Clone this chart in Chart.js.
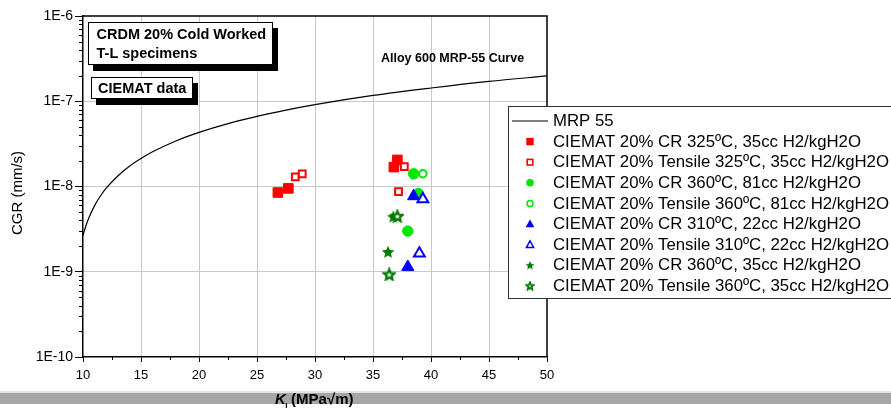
<!DOCTYPE html>
<html><head><meta charset="utf-8">
<script src="https://cdn.jsdelivr.net/npm/chart.js@4.4.1/dist/chart.umd.min.js"></script>
<style>html,body{margin:0;padding:0;background:#fff;overflow:hidden}#wrap{width:891px;height:410px}</style>
</head><body><div id="wrap"><canvas id="c" width="891" height="410"></canvas></div>
<script>
const FONT = '"Liberation Sans", Arial, sans-serif';
const xTickValues = [10, 15, 20, 25, 30, 35, 40, 45, 50];
const xMinorTicks = [12.5, 17.5, 22.5, 27.5, 32.5, 37.5, 42.5, 47.5];
const yTickValues = [1e-10, 1e-9, 1e-8, 1e-7, 1e-6];

// MRP-55 curve
const mrpK   = [10, 10.25, 10.5, 11, 11.5, 12, 13, 14, 15, 16, 18, 20, 22.5, 25, 27.5, 30, 35, 40, 45, 50];
const mrpCGR = [2.67e-9, 3.46e-9, 4.27e-9, 5.97e-9, 7.73e-9, 9.55e-9, 1.33e-8, 1.73e-8, 2.13e-8, 2.55e-8, 3.42e-8, 4.31e-8, 5.47e-8, 6.66e-8, 7.88e-8, 9.13e-8, 1.17e-7, 1.43e-7, 1.71e-7, 1.98e-7];

const cr325K = [26.8, 27.7, 36.8, 37.1];
const cr325CGR = [8.5e-9, 9.5e-9, 1.69e-8, 2.05e-8];
const ten325K = [28.3, 28.9, 37.7, 37.2];
const ten325CGR = [1.30e-8, 1.41e-8, 1.71e-8, 8.7e-9];
const cr360hK = [38.5, 38.0, 38.9];
const cr360hCGR = [1.41e-8, 3.0e-9, 8.3e-9];
const ten360hK = [39.3];
const ten360hCGR = [1.41e-8];
const cr310K = [38.5, 38.0];
const cr310CGR = [7.7e-9, 1.14e-9];
const ten310K = [39.3, 39.0];
const ten310CGR = [7.1e-9, 1.64e-9];
const cr360lK = [36.75, 36.3];
const cr360lCGR = [4.43e-9, 1.71e-9];
const ten360lK = [37.1, 36.4];
const ten360lCGR = [4.5e-9, 9.3e-10];

const seriesLabels = [
  'MRP 55',
  'CIEMAT 20% CR 325\u00BAC, 35cc H2/kgH2O',
  'CIEMAT 20% Tensile 325\u00BAC, 35cc H2/kgH2O',
  'CIEMAT 20% CR 360\u00BAC, 81cc H2/kgH2O',
  'CIEMAT 20% Tensile 360\u00BAC, 81cc H2/kgH2O',
  'CIEMAT 20% CR 310\u00BAC, 22cc H2/kgH2O',
  'CIEMAT 20% Tensile 310\u00BAC, 22cc H2/kgH2O',
  'CIEMAT 20% CR 360\u00BAC, 35cc H2/kgH2O',
  'CIEMAT 20% Tensile 360\u00BAC, 35cc H2/kgH2O'
];

const RED = '#ff0000', GREEN = '#00e600', BLUE = '#0000ff', DKGREEN = '#007a00';

function pts(xs, ys) { return xs.map((x, i) => ({x: x, y: ys[i]})); }

function starCanvas(size, fill, stroke, lw) {
  const c = document.createElement('canvas');
  c.width = size; c.height = size;
  const g = c.getContext('2d');
  const cx = size / 2, cy = size / 2 + size * 0.04;
  const ro = size / 2 - lw / 2 - 0.3, ri = ro * 0.45;
  g.beginPath();
  for (let i = 0; i < 10; i++) {
    const r = i % 2 === 0 ? ro : ri;
    const a = -Math.PI / 2 + i * Math.PI / 5;
    const px = cx + r * Math.cos(a), py = cy + r * Math.sin(a);
    if (i === 0) g.moveTo(px, py); else g.lineTo(px, py);
  }
  g.closePath();
  g.fillStyle = fill; g.fill();
  if (lw > 0) { g.lineWidth = lw; g.strokeStyle = stroke; g.lineJoin = 'miter'; g.stroke(); }
  return c;
}
const starFilled = starCanvas(14, DKGREEN, DKGREEN, 0);
const starOpen = starCanvas(14, '#ffffff', DKGREEN, 2.2);
const starFilledSm = starCanvas(10, DKGREEN, DKGREEN, 0);
const starOpenSm = starCanvas(10, '#ffffff', DKGREEN, 1.8);

function sc(label, data, style, bg, border, r, bw, order) {
  return {label: label, data: data, showLine: false, pointStyle: style, backgroundColor: bg, borderColor: border,
    pointRadius: r, pointHoverRadius: r, pointBorderWidth: bw, order: order};
}

const datasets = [
  {label: seriesLabels[0], data: pts(mrpK, mrpCGR), showLine: true, borderColor: '#000', borderWidth: 1.2,
   pointRadius: 0, cubicInterpolationMode: 'monotone', fill: false, order: 100},
  sc(seriesLabels[1], pts(cr325K, cr325CGR), 'rect', RED, RED, 6.8, 1, 9),
  sc(seriesLabels[2], pts(ten325K, ten325CGR), 'rect', '#fff', RED, 4.8, 2, 8),
  sc(seriesLabels[3], pts(cr360hK, cr360hCGR), 'circle', GREEN, GREEN, 5.2, 1, 7),
  sc(seriesLabels[4], pts(ten360hK, ten360hCGR), 'circle', '#fff', GREEN, 3.7, 2, 6),
  sc(seriesLabels[5], pts(cr310K, cr310CGR), 'triangle', BLUE, BLUE, 7, 1, 5),
  sc(seriesLabels[6], pts(ten310K, ten310CGR), 'triangle', '#fff', BLUE, 6.3, 2, 4),
  sc(seriesLabels[7], pts(cr360lK, cr360lCGR), starFilled, DKGREEN, DKGREEN, 7, 0, 3),
  sc(seriesLabels[8], pts(ten360lK, ten360lCGR), starOpen, '#fff', DKGREEN, 7, 0, 2)
];

function legendMarker(ctx, i, x, y) {
  ctx.save();
  ctx.lineWidth = 1.5;
  switch (i) {
    case 0:
      ctx.strokeStyle = '#000'; ctx.lineWidth = 1.2;
      ctx.beginPath(); ctx.moveTo(512, y); ctx.lineTo(548, y); ctx.stroke(); break;
    case 1: ctx.fillStyle = RED; ctx.fillRect(x - 3.7, y - 3.7, 7.4, 7.4); break;
    case 2: ctx.strokeStyle = RED; ctx.fillStyle = '#fff'; ctx.lineWidth = 1.6; ctx.strokeRect(x - 2.8, y - 2.8, 5.6, 5.6); break;
    case 3: ctx.fillStyle = GREEN; ctx.beginPath(); ctx.arc(x, y, 3.8, 0, Math.PI * 2); ctx.fill(); break;
    case 4: ctx.strokeStyle = GREEN; ctx.lineWidth = 1.5; ctx.beginPath(); ctx.arc(x, y, 3, 0, Math.PI * 2); ctx.stroke(); break;
    case 5: ctx.fillStyle = BLUE; ctx.beginPath(); ctx.moveTo(x, y - 4.5); ctx.lineTo(x + 4.4, y + 3.2); ctx.lineTo(x - 4.4, y + 3.2); ctx.closePath(); ctx.fill(); break;
    case 6: ctx.strokeStyle = BLUE; ctx.lineWidth = 1.5; ctx.beginPath(); ctx.moveTo(x, y - 3.8); ctx.lineTo(x + 3.6, y + 2.8); ctx.lineTo(x - 3.6, y + 2.8); ctx.closePath(); ctx.stroke(); break;
    case 7: ctx.drawImage(starFilledSm, x - 5, y - 5); break;
    case 8: ctx.drawImage(starOpenSm, x - 5, y - 5); break;
  }
  ctx.restore();
}

function shadowBox(ctx, x, y, w, h, dx, dy) {
  ctx.fillStyle = '#000';
  ctx.fillRect(x + dx, y + dy, w, h);
  ctx.fillStyle = '#fff';
  ctx.fillRect(x, y, w, h);
  ctx.strokeStyle = '#000'; ctx.lineWidth = 1;
  ctx.strokeRect(x + 0.5, y + 0.5, w - 1, h - 1);
}

const decor = {
  id: 'decor',
  beforeDraw(chart) {
    const ctx = chart.ctx;
    ctx.save();
    ctx.fillStyle = '#fff'; ctx.fillRect(0, 0, chart.width, chart.height);
    ctx.fillStyle = '#e4e4e4'; ctx.fillRect(0, 391, chart.width, 2);
    ctx.fillStyle = '#a6a6a6'; ctx.fillRect(0, 393, chart.width, 11);
    ctx.restore();
  },
  afterDraw(chart) {
    const ctx = chart.ctx, a = chart.chartArea;
    const xs = chart.scales.x, ys = chart.scales.y;
    ctx.save();
    // frame
    ctx.strokeStyle = '#000'; ctx.lineWidth = 1.5;
    ctx.beginPath();
    ctx.moveTo(a.left, a.top); ctx.lineTo(a.right, a.top); ctx.lineTo(a.right, a.bottom);
    ctx.stroke();
    // minor ticks
    ctx.lineWidth = 1;
    ctx.beginPath();
    for (let n = -10; n < -6; n++) {
      for (let m = 2; m <= 9; m++) {
        const py = Math.round(ys.getPixelForValue(m * Math.pow(10, n))) + 0.5;
        ctx.moveTo(a.left - 4, py); ctx.lineTo(a.left, py);
      }
    }
    xMinorTicks.forEach(v => {
      const px = Math.round(xs.getPixelForValue(v)) + 0.5;
      ctx.moveTo(px, a.bottom); ctx.lineTo(px, a.bottom + 3);
    });
    ctx.stroke();

    // text boxes
    shadowBox(ctx, 88, 22, 185, 43, 5, 6);
    shadowBox(ctx, 91, 77, 102, 22, 5, 6);
    ctx.fillStyle = '#000';
    ctx.textBaseline = 'middle'; ctx.textAlign = 'left';
    ctx.font = 'bold 14.5px ' + FONT;
    ctx.fillText('CRDM 20% Cold Worked', 96.5, 34.5);
    ctx.fillText('T-L specimens', 96.5, 53.5);
    ctx.fillText('CIEMAT data', 98, 88.5);
    ctx.font = 'bold 12.5px ' + FONT;
    ctx.fillText('Alloy 600 MRP-55 Curve', 381, 58.5);

    // legend
    ctx.fillStyle = '#fff'; ctx.fillRect(508, 106, 400, 193);
    ctx.strokeStyle = '#333'; ctx.lineWidth = 1;
    ctx.strokeRect(508.5, 106.5, 400, 192);
    ctx.font = '16.8px ' + FONT; ctx.fillStyle = '#000'; ctx.textBaseline = 'middle';
    seriesLabels.forEach((lab, i) => {
      const y = 121 + i * 20.6;
      legendMarker(ctx, i, 530, y);
      ctx.fillStyle = '#000';
      ctx.fillText(lab, 553, y + 0.5);
    });

    // y title
    ctx.save();
    ctx.translate(18, 193);
    ctx.rotate(-Math.PI / 2);
    ctx.textAlign = 'center'; ctx.textBaseline = 'middle';
    ctx.font = '15px ' + FONT;
    ctx.fillText('CGR (mm/s)', 0, 0);
    ctx.restore();

    // x title  K_I (MPa√m)
    ctx.save();
    ctx.translate(275, 400);
    ctx.textBaseline = 'middle'; ctx.textAlign = 'left';
    ctx.font = 'italic bold 15px ' + FONT;
    ctx.fillText('K', 0, 0);
    let w = ctx.measureText('K').width;
    ctx.font = 'bold 8px ' + FONT;
    ctx.fillText('I', w - 0.5, 5.5);
    w += ctx.measureText('I').width + 3;
    ctx.font = 'bold 15px ' + FONT;
    ctx.fillText('(MPa\u221Am)', w, 0);
    ctx.restore();

    ctx.restore();
  }
};

new Chart(document.getElementById('c'), {
  type: 'scatter',
  data: {datasets: datasets},
  options: {
    responsive: false,
    animation: false,
    devicePixelRatio: 1,
    layout: {padding: {left: 0, top: 16, right: 344, bottom: 0}},
    plugins: {legend: {display: false}, tooltip: {enabled: false}},
    scales: {
      x: {
        type: 'linear', min: 10, max: 50,
        afterBuildTicks: s => { s.ticks = xTickValues.map(v => ({value: v})); },
        afterFit: s => { s.height = 53; },
        ticks: {font: {family: FONT, size: 13}, color: '#000', padding: 6, maxRotation: 0, autoSkip: false},
        grid: {
          color: c => (c.tick && (c.tick.value === 10 || c.tick.value === 50)) ? 'rgba(0,0,0,0)' : '#c8c8c8',
          lineWidth: 1, tickColor: '#000', tickLength: 5, drawTicks: true
        },
        border: {color: '#000', width: 1.5}
      },
      y: {
        type: 'logarithmic', min: 1e-10, max: 1e-6,
        afterBuildTicks: s => { s.ticks = yTickValues.map(v => ({value: v, major: true})); },
        afterFit: s => { s.width = 83; },
        ticks: {font: {family: FONT, size: 14}, color: '#000', padding: 2, autoSkip: false,
          callback: v => '1E' + Math.round(Math.log10(v))},
        grid: {
          color: c => (c.tick && (c.tick.value === 1e-10 || c.tick.value === 1e-6)) ? 'rgba(0,0,0,0)' : '#c8c8c8',
          lineWidth: 1, tickColor: '#000', tickLength: 8, drawTicks: true
        },
        border: {color: '#000', width: 1.5}
      }
    }
  },
  plugins: [decor]
});
</script>
</body></html>
